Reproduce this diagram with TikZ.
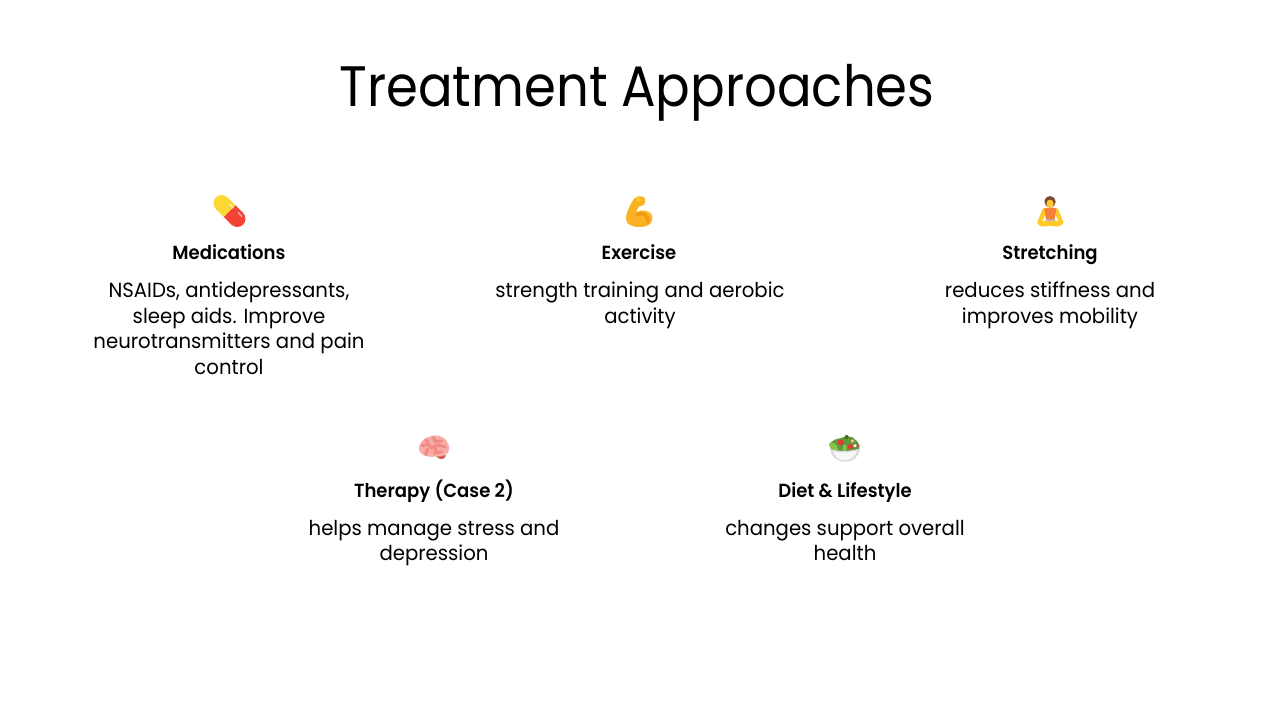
\documentclass[tikz,border=0pt]{standalone}
\usepackage{fontspec}
\setmainfont{Poppins}
\newfontfamily\titlefont[FakeStretch=0.9]{Poppins}
\newfontfamily\bodyfont[FakeStretch=0.96]{Poppins}
\newfontfamily\headfont[FakeStretch=0.95]{Poppins SemiBold}
\definecolor{pillY}{HTML}{FDD835}
\definecolor{pillR}{HTML}{F44336}
\definecolor{armA}{HTML}{FBB225}
\definecolor{armB}{HTML}{EE9C14}
\definecolor{skin}{HTML}{FFCA28}
\definecolor{hair}{HTML}{7A4A33}
\definecolor{shirt}{HTML}{F4803A}
\definecolor{brainA}{HTML}{F9ABA6}
\definecolor{brainB}{HTML}{EF8A85}
\definecolor{brainC}{HTML}{C9605F}
\definecolor{leafA}{HTML}{8BC34A}
\definecolor{leafB}{HTML}{5D9A3A}
\definecolor{tomato}{HTML}{E53935}
\definecolor{bowlA}{HTML}{DADADA}
\definecolor{bowlB}{HTML}{F7F7F7}
\tikzset{
  every node/.style={inner sep=0pt,outer sep=0pt,text=black},
  titlebox/.style={font=\fontsize{57}{68}\selectfont\titlefont,anchor=base},
  headbox/.style={font=\fontsize{19}{24}\selectfont\headfont,anchor=base},
  bodybox/.style={font=\fontsize{20.5}{25.6}\selectfont\bodyfont,align=center,anchor=north},
  icon/.style={scale=1/3}
}
\begin{document}
\begin{tikzpicture}[x=1pt,y=-1pt]
\useasboundingbox (0,0) rectangle (1280,720);
\fill[white] (0,0) rectangle (1280,720);
\node[titlebox] (title) at (637,106) {Treatment Approaches};

% pill
\begin{scope}[shift={(229.5,211)},rotate=-45]
\fill[pillR] (11,0) circle (8.2);
\fill[pillR] (0,-8.2) rectangle (11,8.2);
\fill[pillY] (-11,0) circle (8.2);
\fill[pillY] (-11,-8.2) rectangle (0,8.2);
\fill[white,opacity=.6] (-5,-5.8) rectangle (1,-4.2);
\fill[white,opacity=.5] (7,-5.8) rectangle (13,-4.2);
\end{scope}

% arm
\begin{scope}[shift={(600,185)},icon]
\fill[armA] (78,102) .. controls (78,85) and (90,58) .. (102,42) .. controls (110,33) and (125,30) .. (133,38) .. controls (138,45) and (137,58) .. (127,62) .. controls (122,64) and (117,62) .. (114,68) .. controls (111,74) and (110,78) .. (109,82) .. controls (122,72) and (152,74) .. (157,95) .. controls (160,114) and (146,125) .. (122,126) .. controls (104,127) and (78,122) .. (78,102) -- cycle;
\draw[armB,line width=3.5pt] (108,92) .. controls (125,78) and (146,88) .. (144,115);
\fill[skin] (116,43) circle (7);
\end{scope}

% meditating person
\begin{scope}[shift={(1010,185)},icon]
\fill[skin] (108,106) .. controls (100,112) and (90,108) .. (80,110) .. controls (85,128) and (105,126) .. (121,122) .. controls (138,126) and (155,128) .. (162,110) .. controls (150,108) and (142,112) .. (134,106) -- cycle;
\fill[gray!55] (108,100) rectangle (134,109);
\draw[skin,line width=4.5pt,line cap=round] (103,76) -- (90,110);
\draw[skin,line width=4.5pt,line cap=round] (139,76) -- (152,110);
\fill[shirt] (103,71) .. controls (112,66) and (130,66) .. (139,71) -- (134,103) -- (108,103) -- cycle;
\fill[hair] (120,50) circle (17);
\fill[skin] (120,56) ellipse (11 and 12);
\end{scope}

% brain
\begin{scope}[shift={(395,425)},icon]
\fill[brainC] (122,92) .. controls (132,106) and (148,106) .. (153,92) -- (140,85) -- cycle;
\fill[brainA] (72,70) .. controls (72,45) and (105,28) .. (130,32) .. controls (150,35) and (165,55) .. (162,75) .. controls (160,90) and (140,96) .. (122,94) .. controls (105,98) and (74,95) .. (72,70) -- cycle;
\begin{scope}[brainB,line width=3pt,line cap=round]
\draw (82,62) -- (98,58) -- (110,68) -- (130,60) -- (150,66);
\draw (92,44) -- (100,56);
\draw (115,38) -- (122,50) -- (140,48);
\draw (98,72) -- (92,88);
\draw (122,68) -- (120,84) -- (140,80);
\end{scope}
\end{scope}

% salad
\begin{scope}[shift={(805,425)},icon]
\fill[leafB] (72,58) .. controls (80,48) and (90,42) .. (105,40) .. controls (120,32) and (145,32) .. (150,44) .. controls (160,48) and (162,60) .. (164,72) -- (110,82) -- (78,72) -- cycle;
\fill[leafA] (72,56) .. controls (85,48) and (98,58) .. (100,78) -- (80,76) -- cycle;
\fill[leafA] (115,60) .. controls (122,54) and (128,66) .. (124,76) -- (112,78) -- cycle;
\fill[leafB!70!black] (125,36) circle (6);
\fill[tomato] (107,52) circle (9);
\fill[tomato] (136,65) circle (8);
\fill[tomato] (160,62) circle (4);
\fill[pink] (142,48) circle (5);
\fill[white] (150,62) circle (5);
\fill[bowlA] (76,72) .. controls (95,80) and (145,80) .. (165,70) .. controls (163,95) and (145,110) .. (120,110) .. controls (95,110) and (78,95) .. (76,72) -- cycle;
\fill[bowlB] (84,78) .. controls (100,84) and (140,84) .. (157,76) .. controls (152,92) and (138,106) .. (120,106) .. controls (102,106) and (88,94) .. (84,78) -- cycle;
\end{scope}

\node[headbox] (h1) at (229,259) {Medications};
\node[headbox] (h2) at (639,259) {Exercise};
\node[headbox] (h3) at (1050,259) {Stretching};
\node[headbox] (h4) at (434,497) {Therapy (Case 2)};
\node[headbox] (h5) at (845,497) {Diet \& Lifestyle};

\node[bodybox] (b1) at (229,282) {NSAIDs, antidepressants,\\sleep aids. Improve\\neurotransmitters and pain\\control};
\node[bodybox] (b2) at (640,282) {strength training and aerobic\\activity};
\node[bodybox] (b3) at (1050,282) {reduces stiffness and\\improves mobility};
\node[bodybox] (b4) at (434,520) {helps manage stress and\\depression};
\node[bodybox] (b5) at (845,520) {changes support overall\\health};
\end{tikzpicture}
\end{document}
